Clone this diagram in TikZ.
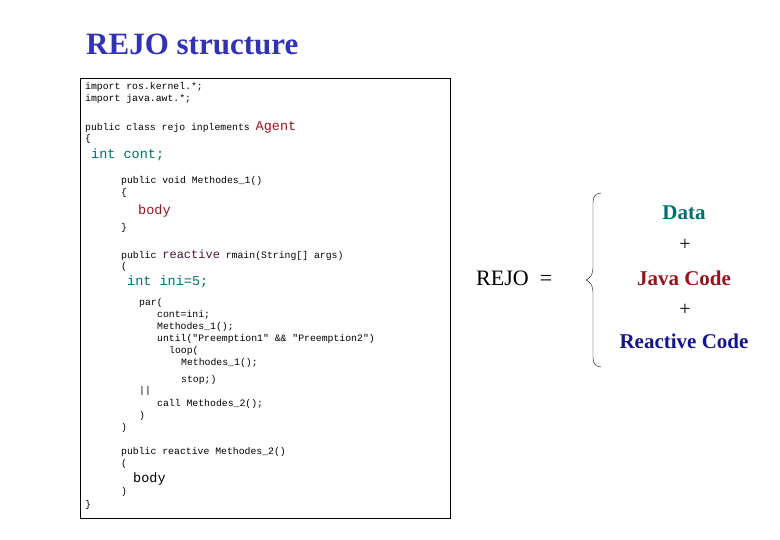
\documentclass[tikz,border=0pt]{standalone}
\usepackage{fontspec}
\setmainfont{Liberation Serif}
\newfontfamily\codef{Liberation Mono}
\definecolor{tealc}{RGB}{0,110,110}
\definecolor{redc}{RGB}{150,20,30}
\definecolor{navyc}{RGB}{20,20,140}
\definecolor{titlec}{RGB}{50,50,180}
\definecolor{purp}{RGB}{80,20,60}
\begin{document}
\begin{tikzpicture}[x=1pt,y=-1pt,
  c/.style={anchor=west,inner sep=0pt,font=\codef\fontsize{9.8}{10}\selectfont},
  cb/.style={anchor=west,inner sep=0pt,font=\codef\fontsize{13.5}{14}\selectfont},
  r/.style={inner sep=0pt,font=\fontsize{21}{23}\selectfont\bfseries}]
\useasboundingbox (0,0) rectangle (780,540);
\node[anchor=west,inner sep=0pt,text=titlec,font=\fontsize{31}{33}\selectfont\bfseries] (title) at (86,44) {REJO structure};
\node[draw,thick,minimum width=370,minimum height=440,anchor=north west,inner sep=0pt] (box) at (80,78) {};
\node[c] (l1) at (85,87) {import ros.kernel.*;};
\node[c] (l2) at (85,99) {import java.awt.*;};
\node[c] (l3) at (85,127) {public class rejo inplements \textcolor{redc}{\fontsize{13.5}{14}\selectfont Agent}};
\node[c] (l4) at (85,139) {\{};
\node[cb,text=tealc] (l5) at (91,155) {int cont;};
\node[c] (l6) at (121,181) {public void Methodes\_1()};
\node[c] (l7) at (121,193) {\{};
\node[cb,text=redc] (l8) at (138,211) {body};
\node[c] (l9) at (121,228) {\}};
\node[c] (l10) at (121,255) {public \textcolor{purp}{\fontsize{12}{12}\selectfont reactive} rmain(String[] args)};
\node[c] (l11) at (121,267) {(};
\node[cb,text=tealc] (l12) at (127,282) {int ini=5;};
\node[c] (l13) at (139,303) {par(};
\node[c] (l14) at (157,315) {cont=ini;};
\node[c] (l15) at (157,327) {Methodes\_1();};
\node[c] (l16) at (157,339) {until("Preemption1" \&\& "Preemption2")};
\node[c] (l17) at (169,351) {loop(};
\node[c] (l18) at (181,363) {Methodes\_1();};
\node[c] (l19) at (181,380) {stop;)};
\node[c] (l20) at (139,391) {||};
\node[c] (l21) at (157,404) {call Methodes\_2();};
\node[c] (l22) at (139,416) {)};
\node[c] (l23) at (121,428) {)};
\node[c] (l24) at (121,452) {public reactive Methodes\_2()};
\node[c] (l25) at (121,464) {(};
\node[cb] (l26) at (133,479) {body};
\node[c] (l27) at (121,492) {)};
\node[c] (l28) at (85,505) {\}};
\node[anchor=west,inner sep=0pt,font=\fontsize{22}{24}\selectfont] (rejo) at (476,278) {REJO\ \ =};
\draw[thin] (601,193) .. controls (592,194) and (593,200) .. (593,208) -- (593,268) .. controls (593,275) and (590,278) .. (586,280)
  .. controls (590,282) and (593,285) .. (593,292) -- (593,352) .. controls (593,360) and (592,366) .. (601,367);
\node[r,text=tealc] (data) at (684,213) {Data};
\node[r,font=\fontsize{20}{22}\selectfont] (p1) at (685,245) {+};
\node[r,text=redc] (java) at (684,278) {Java Code};
\node[r,font=\fontsize{20}{22}\selectfont] (p2) at (685,310) {+};
\node[r,text=navyc] (reac) at (684,341) {Reactive Code};
\end{tikzpicture}
\end{document}
